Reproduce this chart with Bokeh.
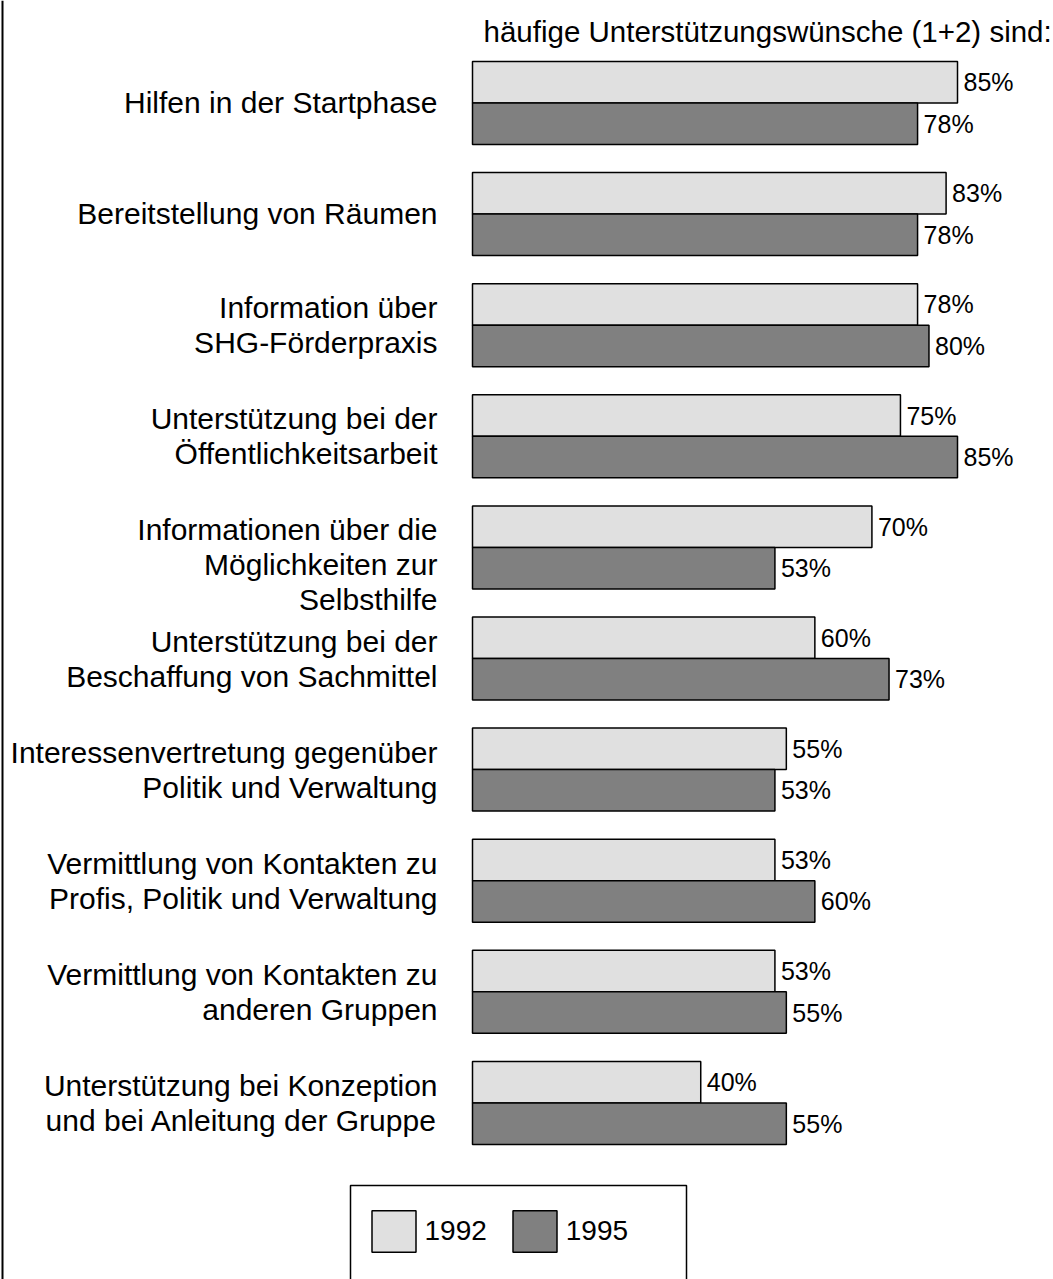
import numpy as np
from bokeh.plotting import figure
from bokeh.models import (Range1d, Legend, LegendItem, Label, ColumnDataSource,
                          Span, BoxAnnotation)
from bokeh.core.properties import value
from bokeh.embed import file_html
from bokeh.resources import INLINE

# ---------------- data ----------------
categories = [
    "Hilfen in der Startphase",
    "Bereitstellung von Räumen",
    "Information über\nSHG-Förderpraxis",
    "Unterstützung bei der\nÖffentlichkeitsarbeit",
    "Informationen über die\nMöglichkeiten zur\nSelbsthilfe",
    "Unterstützung bei der\nBeschaffung von Sachmittel",
    "Interessenvertretung gegenüber\nPolitik und Verwaltung",
    "Vermittlung von Kontakten zu\nProfis, Politik und Verwaltung",
    "Vermittlung von Kontakten zu\nanderen Gruppen",
    "Unterstützung bei Konzeption\nund bei Anleitung der Gruppe",
]
values_1992 = [85, 83, 78, 75, 70, 60, 55, 53, 53, 40]
values_1995 = [78, 78, 80, 85, 53, 73, 53, 60, 55, 55]
series_names = ["1992", "1995"]
title_text = "häufige Unterstützungswünsche (1+2) sind:"

# ---------------- layout ----------------
FONT = "Liberation Sans"
PX_PER_PCT = 5.706          # horizontal pixels per percent
PITCH = 111.1               # vertical pixels per category
BAR_H = 41.5 / PITCH        # bar thickness in category units
X0, Y0 = 472, 102.5         # pixel position of 0 % / first category centre
W, H = 1053, 1279

x_range = Range1d(-X0 / PX_PER_PCT, (W - X0) / PX_PER_PCT)
y_range = Range1d((H - Y0) / PITCH, -Y0 / PITCH)

p = figure(width=W, height=H, x_range=x_range, y_range=y_range,
           output_backend="svg", toolbar_location=None,
           x_axis_location=None, y_axis_location=None,
           min_border=0, outline_line_color=None,
           background_fill_color="white", border_fill_color="white")
p.grid.visible = False

idx = np.arange(len(categories))
src = ColumnDataSource(dict(
    y1=idx - BAR_H / 2, y2=idx + BAR_H / 2,
    v1=values_1992, v2=values_1995,
    t1=[f"{v}%" for v in values_1992],
    t2=[f"{v}%" for v in values_1995],
))

r1 = p.hbar(y="y1", left=0, right="v1", height=BAR_H, source=src,
            fill_color="#e0e0e0", line_color="black", line_width=1.5)
r2 = p.hbar(y="y2", left=0, right="v2", height=BAR_H, source=src,
            fill_color="#808080", line_color="black", line_width=1.5)

for xcol, ycol, tcol in (("v1", "y1", "t1"), ("v2", "y2", "t2")):
    p.text(x=xcol, y=ycol, text=tcol, source=src, x_offset=6,
           text_align="left", text_baseline="middle",
           text_font=value(FONT), text_font_size="25px", text_color="black")

# category labels (one text per line, right aligned)
lx, ly, lt = [], [], []
for i, cat in enumerate(categories):
    lines = cat.split("\n")
    base = i + (-1 if len(lines) == 1 else -17.5) / PITCH
    for j, line in enumerate(lines):
        lx.append(0)
        ly.append(base + j * 35 / PITCH)
        lt.append(line)
p.text(x=lx, y=ly, text=lt, x_offset=-35, text_align="right",
       text_baseline="middle", text_font=value(FONT),
       text_font_size="30px", text_color="black")

# heading
p.add_layout(Label(x=0, y=(31 - Y0) / PITCH, x_offset=11, text=title_text,
                   text_baseline="middle", text_align="left",
                   text_font=FONT, text_font_size="29.5px", text_color="black"))

# legend frame
p.add_layout(BoxAnnotation(left=(350 - X0) / PX_PER_PCT,
                           right=(686 - X0) / PX_PER_PCT,
                           top=(1185 - Y0) / PITCH, bottom=12,
                           fill_alpha=0, line_color="black", line_alpha=1,
                           line_width=1.5))

legend = Legend(items=[LegendItem(label=series_names[0], renderers=[r1]),
                       LegendItem(label=series_names[1], renderers=[r2])],
                orientation="horizontal", location=(365.5, 21.75),
                glyph_width=55, glyph_height=52, label_standoff=4,
                spacing=20, padding=0, margin=0,
                border_line_color=None, background_fill_alpha=0,
                label_text_font=FONT, label_text_font_size="28px",
                label_text_color="black")
p.add_layout(legend)

# left frame line
p.add_layout(Span(location=x_range.start + 2 / PX_PER_PCT, dimension="height",
                  line_color="black", line_width=2))

open("out.html", "w").write(file_html(p, INLINE))
